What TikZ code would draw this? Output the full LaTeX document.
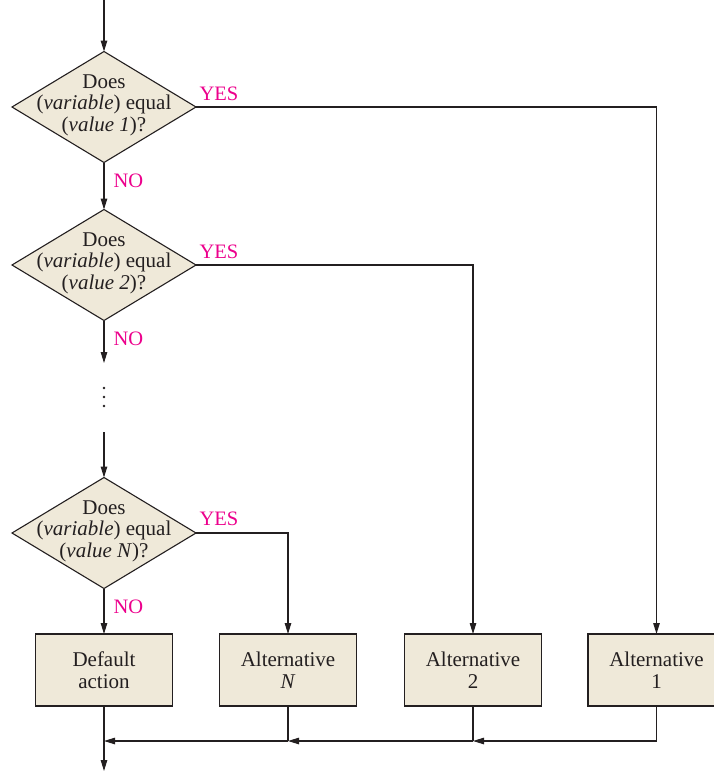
\documentclass[tikz,border=0pt]{standalone}
\usepackage{fontspec}
\setmainfont{Liberation Serif}
\usetikzlibrary{shapes.geometric,arrows.meta}
\definecolor{fillc}{RGB}{239,233,217}
\definecolor{lab}{RGB}{236,0,140}
\definecolor{ink}{RGB}{35,31,32}
\begin{document}
\begin{tikzpicture}[x=1pt,y=-1pt,line width=1.1pt,color=ink,
  diam/.style={diamond,draw=ink,fill=fillc,minimum width=184pt,minimum height=111pt,inner sep=0pt,outer sep=0pt},
  dtext/.style={align=center,font=\fontsize{21}{21.5}\selectfont,inner sep=0pt,text=ink},
  box/.style={rectangle,draw=ink,fill=fillc,minimum width=137pt,minimum height=72pt,align=center,font=\fontsize{21}{21.5}\selectfont,outer sep=0pt,text=ink},
  lbl/.style={text=lab,font=\fontsize{20.5}{21}\selectfont,inner sep=0pt,anchor=base west},
  arr/.style={-{Triangle[length=11pt,width=6.5pt]}},
  dotn/.style={circle,fill=ink,inner sep=0pt,minimum size=2.8pt}]
\useasboundingbox (0,0) rectangle (713,771);
% decisions
\node[diam] (d1) at (104,107) {};
\node[dtext] (t1) at (104,105) {Does\\(\textit{variable}) equal\\(\textit{value 1})?};
\node[diam] (d2) at (104,265) {};
\node[dtext] (t2) at (104,263) {Does\\(\textit{variable}) equal\\(\textit{value 2})?};
\node[diam] (dN) at (104,533) {};
\node[dtext] (tN) at (104,531) {Does\\(\textit{variable}) equal\\(\textit{value N})?};
% boxes
\node[box] (def) at (104,670) {Default\\action};
\node[box] (altN) at (288,670) {Alternative\\\textit{N}};
\node[box] (alt2) at (473,670) {Alternative\\2};
\node[box] (alt1) at (656.5,670) {Alternative\\1};
% dots
\node[dotn] (dot1) at (104,388) {};
\node[dotn] (dot2) at (104,397) {};
\node[dotn] (dot3) at (104,406) {};
% coordinates
\coordinate (top) at (104,0);
\coordinate (a2end) at (104,363);
\coordinate (a3start) at (104,432);
\coordinate (j1) at (656.5,741);
\coordinate (j2) at (473,741);
\coordinate (jN) at (288,741);
\coordinate (jD) at (104,741);
\coordinate (bot) at (104,771);
% main flow
\draw[arr] (top) -- (d1.north);
\draw[arr] (d1.south) -- (d2.north);
\draw[arr] (d2.south) -- (a2end);
\draw[arr] (a3start) -- (dN.north);
\draw[arr] (dN.south) -- (def.north);
% yes branches
\draw[arr] (d1.east) -| (alt1.north);
\draw[arr] (d2.east) -| (alt2.north);
\draw[arr] (dN.east) -| (altN.north);
% merge
\draw (alt1.south) -- (j1);
\draw[arr] (j1) -- (j2);
\draw (alt2.south) -- (j2);
\draw[arr] (j2) -- (jN);
\draw (altN.south) -- (jN);
\draw[arr] (jN) -- (jD);
\draw[arr] (def.south) -- (bot);
% labels
\node[lbl] (y1) at (199,100) {YES};
\node[lbl] (y2) at (199,258) {YES};
\node[lbl] (yN) at (199,525) {YES};
\node[lbl] (n1) at (113,187) {NO};
\node[lbl] (n2) at (113,345) {NO};
\node[lbl] (nN) at (113,613) {NO};
\end{tikzpicture}
\end{document}
